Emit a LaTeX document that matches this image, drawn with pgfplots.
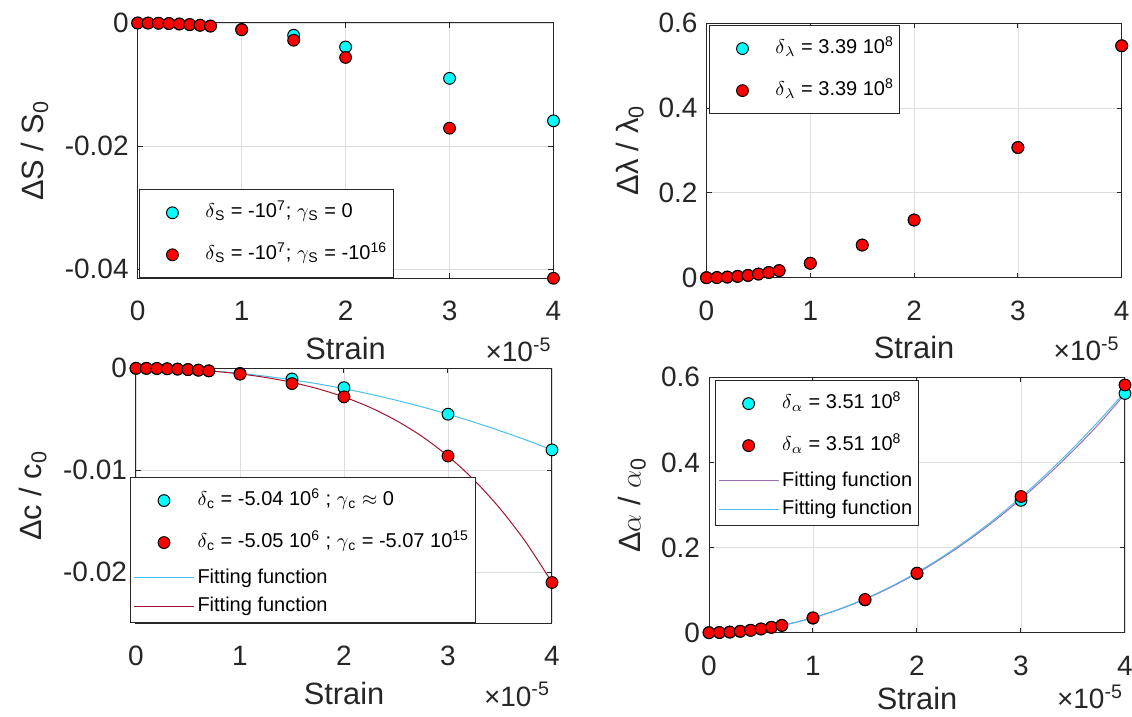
\documentclass[border=0pt]{standalone}
\usepackage{fontspec}
\setmainfont{Liberation Sans}
\usepackage{pgfplots}
\pgfplotsset{compat=1.18}

\definecolor{mcyan}{rgb}{0,1,1}
\definecolor{mred}{rgb}{1,0,0}
\definecolor{fitblue}{rgb}{0.30,0.745,0.933}
\definecolor{fitred}{rgb}{0.635,0.078,0.184}
\definecolor{fitpurple}{rgb}{0.62,0.42,0.70}
\definecolor{axgray}{rgb}{0.15,0.15,0.15}

% legend rows: marker rows are taller than line rows, as in the original
\newcommand{\mkrow}[1]{\raisebox{6.5pt}[0pt][0pt]{#1}\rule{0pt}{19.5pt}}
\newcommand{\lnrow}[1]{\raisebox{3pt}[0pt][0pt]{#1}\rule{0pt}{12.8pt}}

\pgfplotsset{
  mat/.style={
    scale only axis, anchor=south west,
    xmin=0, xmax=4, xtick={0,1,2,3,4}, xticklabels={0,1,2,3,4},
    grid=major, major grid style={black!13, line width=0.4pt},
    axis line style={axgray, line width=0.5pt},
    tick style={axgray, line width=0.5pt},
    major tick length=2.5pt, tick align=inside,
    ticklabel style={font=\fontsize{14}{16}\selectfont, text=axgray},
    xticklabel style={yshift=-8pt},
    yticklabel style={xshift=-1pt},
    label style={font=\fontsize{15.4}{18}\selectfont, text=axgray},
    xlabel={Strain},
    xlabel style={at={(axis description cs:0.5,-0.275)}, anchor=center},
    clip=false, scaled ticks=false,
    legend cell align=left,
    legend style={draw=axgray, line width=0.5pt, fill=white,
      font=\fontsize{10}{12}\selectfont, inner xsep=1.5pt, inner ysep=1pt,
      row sep=0pt, nodes={inner xsep=1.5pt, inner ysep=0pt}},
  },
  pts/.style={only marks, mark=*, mark size=2.95pt,
    mark options={draw=black, line width=0.5pt, fill=#1},
    legend image code/.code={\path[draw=none] (0pt,0pt) -- (30pt,0pt);
      \draw[mark repeat=2,mark phase=2,##1] plot coordinates {(0pt,0pt) (15pt,0pt) (30pt,0pt)};}},
  fit/.style={no marks, color=#1, line width=0.5pt,
    legend image code/.code={\draw[##1] (0pt,0pt) -- (30pt,0pt);}},
}

\newcommand{\xfactor}[1][-0.326]{\node[anchor=base east, inner sep=0pt, font=\fontsize{14}{16}\selectfont, text=axgray] at (rel axis cs:0.996,#1) {×10\textsuperscript{-5}};}

\begin{document}
\begin{tikzpicture}
\path[use as bounding box] (0,0) rectangle (566pt,358.5pt);

% top left: Delta S / S0
\begin{axis}[mat, at={(68.85pt,219.35pt)}, width=207.9pt, height=127.65pt,
  ymin=-0.0415, ymax=0, ytick={-0.04,-0.02,0}, yticklabels={-0.04,-0.02,0},
  ylabel={ΔS / S\textsubscript{0}},
  ylabel style={at={(axis description cs:-0.248,0.5)}, anchor=center},
  legend style={at={(rel axis cs:0.003,0)}, anchor=south west}]
\addplot[pts=mcyan] coordinates {
  (0,0) (0.1,-0.00001) (0.2,-0.00004) (0.3,-0.00009) (0.4,-0.00016)
  (0.5,-0.00025) (0.6,-0.00036) (0.7,-0.00049) (1,-0.00105) (1.5,-0.0020)
  (2,-0.0039) (3,-0.0090) (4,-0.0159)};
\addlegendentry{\mkrow{$\delta$\textsubscript{S} = -10\textsuperscript{7}; $\gamma$\textsubscript{S} = 0}}
\addplot[pts=mred] coordinates {
  (0,0) (0.1,-0.00001) (0.2,-0.00004) (0.3,-0.00009) (0.4,-0.00016)
  (0.5,-0.00026) (0.6,-0.00037) (0.7,-0.00051) (1,-0.0011) (1.5,-0.0028)
  (2,-0.0056) (3,-0.0171) (4,-0.0415)};
\addlegendentry{\mkrow{$\delta$\textsubscript{S} = -10\textsuperscript{7}; $\gamma$\textsubscript{S} = -10\textsuperscript{16}}}
\xfactor
\end{axis}

% top right: Delta lambda / lambda0
\begin{axis}[mat, at={(353.25pt,219.65pt)}, width=207.6pt, height=127.2pt,
  ymin=0, ymax=0.6, ytick={0,0.2,0.4,0.6}, yticklabels={0,0.2,0.4,0.6},
  ylabel={Δλ / λ\textsubscript{0}},
  ylabel style={at={(axis description cs:-0.184,0.5)}, anchor=center},
  legend style={at={(rel axis cs:0.006,0.993)}, anchor=north west}]
\addplot[pts=mcyan] coordinates {
  (0,0) (0.1,0.0003) (0.2,0.0014) (0.3,0.0031) (0.4,0.0054) (0.5,0.0085)
  (0.6,0.0122) (0.7,0.0167) (1,0.034) (1.5,0.077) (2,0.136) (3,0.307) (4,0.547)};
\addlegendentry{\mkrow{$\delta$\textsubscript{$\lambda$} = 3.39 10\textsuperscript{8}}}
\addplot[pts=mred] coordinates {
  (0,0) (0.1,0.0003) (0.2,0.0014) (0.3,0.0031) (0.4,0.0054) (0.5,0.0085)
  (0.6,0.0122) (0.7,0.0167) (1,0.034) (1.5,0.077) (2,0.136) (3,0.307) (4,0.547)};
\addlegendentry{\mkrow{$\delta$\textsubscript{$\lambda$} = 3.39 10\textsuperscript{8}}}
\xfactor
\end{axis}

% bottom left: Delta c / c0
\begin{axis}[mat, at={(68pt,46.85pt)}, width=208pt, height=127.5pt,
  ymin=-0.025, ymax=0, ytick={-0.02,-0.01,0}, yticklabels={-0.02,-0.01,0},
  ylabel={Δc / c\textsubscript{0}},
  ylabel style={at={(axis description cs:-0.248,0.5)}, anchor=center},
  legend style={at={(rel axis cs:-0.0144,0)}, anchor=south west}]
\addplot[pts=mcyan] coordinates {
  (0,0) (0.1,-0.000005) (0.2,-0.00002) (0.3,-0.000045) (0.4,-0.00008)
  (0.5,-0.000125) (0.6,-0.00018) (0.7,-0.000245) (1,-0.0005) (1.5,-0.00105)
  (2,-0.0019) (3,-0.0045) (4,-0.0080)};
\addlegendentry{\mkrow{$\delta$\textsubscript{c} = -5.04 10\textsuperscript{6} ; $\gamma$\textsubscript{c} $\approx$ 0}}
\addplot[pts=mred] coordinates {
  (0,0) (0.1,-0.000005) (0.2,-0.00002) (0.3,-0.000045) (0.4,-0.000081)
  (0.5,-0.000128) (0.6,-0.000187) (0.7,-0.000257) (1,-0.00058) (1.5,-0.0015)
  (2,-0.0028) (3,-0.0086) (4,-0.0210)};
\addlegendentry{\mkrow{$\delta$\textsubscript{c} = -5.05 10\textsuperscript{6} ; $\gamma$\textsubscript{c} = -5.07 10\textsuperscript{15}}}
\addplot[fit=fitblue, smooth] coordinates {
  (0,0) (0.25,-0.00003) (0.5,-0.000125) (0.75,-0.00028) (1,-0.0005)
  (1.25,-0.00078) (1.5,-0.00113) (1.75,-0.00153) (2,-0.002) (2.25,-0.00253)
  (2.5,-0.00313) (2.75,-0.00378) (3,-0.0045) (3.25,-0.00528) (3.5,-0.00613)
  (3.75,-0.00703) (4,-0.0080)};
\addlegendentry{\lnrow{Fitting function}}
\addplot[fit=fitred, smooth] coordinates {
  (0,0) (0.25,-0.00003) (0.5,-0.000128) (0.75,-0.000297) (1,-0.00055)
  (1.25,-0.000905) (1.5,-0.00138) (1.75,-0.00201) (2,-0.00281) (2.25,-0.00383)
  (2.5,-0.00511) (2.75,-0.00668) (3,-0.00861) (3.25,-0.01095) (3.5,-0.01375)
  (3.75,-0.01707) (4,-0.0210)};
\addlegendentry{\lnrow{Fitting function}}
\xfactor
\end{axis}

% bottom right: Delta alpha / alpha0
\begin{axis}[mat, at={(354.5pt,42.15pt)}, width=208pt, height=127.7pt,
  ymin=0, ymax=0.6, ytick={0,0.2,0.4,0.6}, yticklabels={0,0.2,0.4,0.6},
  ylabel={Δ$\alpha$ / $\alpha$\textsubscript{0}},
  ylabel style={at={(axis description cs:-0.185,0.5)}, anchor=center},
  xlabel style={at={(axis description cs:0.5,-0.258)}, anchor=center},
  legend style={at={(rel axis cs:0.0135,0.989)}, anchor=north west}]
\addplot[pts=mcyan] coordinates {
  (0,0) (0.1,0.0004) (0.2,0.0014) (0.3,0.0032) (0.4,0.0056) (0.5,0.0088)
  (0.6,0.0126) (0.7,0.0170) (1,0.034) (1.5,0.077) (2,0.139) (3,0.311) (4,0.562)};
\addlegendentry{\mkrow{$\delta$\textsubscript{$\alpha$} = 3.51 10\textsuperscript{8}}}
\addplot[pts=mred] coordinates {
  (0,0) (0.1,0.0004) (0.2,0.0014) (0.3,0.0032) (0.4,0.0056) (0.5,0.0088)
  (0.6,0.0126) (0.7,0.0172) (1,0.035) (1.5,0.078) (2,0.140) (3,0.320) (4,0.582)};
\addlegendentry{\mkrow{$\delta$\textsubscript{$\alpha$} = 3.51 10\textsuperscript{8}}}
\addplot[fit=fitpurple, smooth] coordinates {
  (0,0) (0.25,0.0022) (0.5,0.0087) (0.75,0.0196) (1,0.0349) (1.25,0.0545)
  (1.5,0.0785) (1.75,0.1069) (2,0.1396) (2.25,0.1767) (2.5,0.2181)
  (2.75,0.2639) (3,0.3141) (3.25,0.3686) (3.5,0.4275) (3.75,0.4908) (4,0.5610)};
\addlegendentry{\lnrow{Fitting function}}
\addplot[fit=fitblue, smooth] coordinates {
  (0,0) (0.25,0.0022) (0.5,0.0088) (0.75,0.0199) (1,0.0354) (1.25,0.0553)
  (1.5,0.0797) (1.75,0.1084) (2,0.1416) (2.25,0.1792) (2.5,0.2213)
  (2.75,0.2677) (3,0.3186) (3.25,0.3739) (3.5,0.4337) (3.75,0.4978) (4,0.5660)};
\addlegendentry{\lnrow{Fitting function}}
\xfactor[-0.298]
\end{axis}
\end{tikzpicture}
\end{document}
